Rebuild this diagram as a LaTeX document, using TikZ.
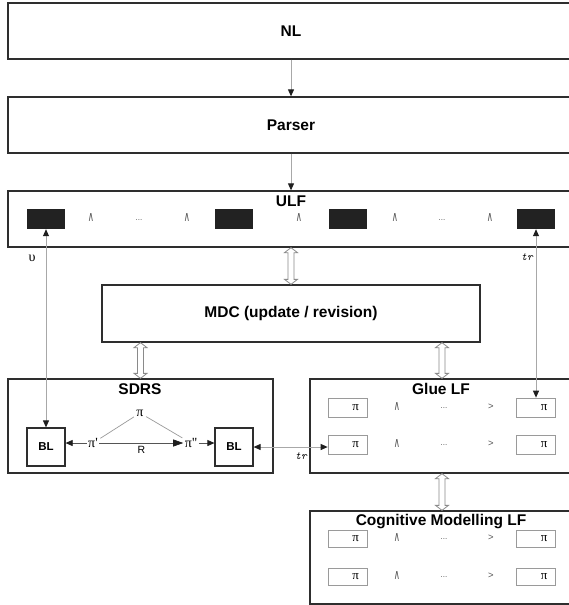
\documentclass[tikz,border=0pt]{standalone}
\usepackage{fontspec}
\setmainfont{Liberation Sans}
\newfontfamily\serifgr{Liberation Serif}
\newfontfamily\symf{DejaVu Sans}
\usetikzlibrary{arrows.meta,calc}
\definecolor{boxc}{HTML}{2E2E2E}
\definecolor{linec}{HTML}{A8A8A8}
\definecolor{tipc}{HTML}{1E1E1E}
\definecolor{smallc}{HTML}{9A9A9A}
\definecolor{blkc}{HTML}{222222}
\definecolor{dblc}{HTML}{8A8A8A}
\definecolor{innerc}{HTML}{555555}
\newcommand\andsym{\scalebox{0.7}[1.15]{∧}}
\newcommand\dblarr[2]{%
  \draw[dblarrow] let \p1=#1, \p2=#2 in
  (\x1,\y1) -- ({\x1+6.5pt},{\y1-5pt}) -- ({\x1+3pt},{\y1-5pt}) -- ({\x1+3pt},{\y2+5pt})
  -- ({\x1+6.5pt},{\y2+5pt}) -- (\x1,\y2) -- ({\x1-6.5pt},{\y2+5pt}) -- ({\x1-3pt},{\y2+5pt})
  -- ({\x1-3pt},{\y1-5pt}) -- ({\x1-6.5pt},{\y1-5pt}) -- cycle;}
\tikzset{
  bigbox/.style={draw=boxc, line width=1.3pt, inner sep=0pt, minimum width=566pt},
  ttl/.style={font=\fontsize{15.5}{18}\selectfont\bfseries, inner sep=0pt},
  blkbox/.style={fill=blkc, minimum width=38pt, minimum height=20pt, inner sep=0pt},
  blbox/.style={draw=boxc, line width=1.2pt, minimum width=38pt, minimum height=38pt, inner sep=0pt,
    font=\fontsize{11.5}{13}\selectfont\bfseries},
  srect/.style={draw=smallc, line width=0.7pt, minimum width=39pt, minimum height=19pt, inner sep=0pt,
    text width=23pt, align=right, font=\fontsize{13}{14}\selectfont\serifgr},
  opnode/.style={inner sep=0pt, text=innerc, font=\fontsize{12}{13}\selectfont\symf},
  dotsnode/.style={inner sep=0pt, text=innerc, font=\fontsize{8}{9}\selectfont},
  gtnode/.style={inner sep=0pt, text=innerc, font=\fontsize{9.5}{10}\selectfont},
  pinode/.style={inner sep=1.5pt, font=\fontsize{14}{16}\selectfont\serifgr},
  lblnode/.style={inner sep=0pt, font=\fontsize{14}{16}\selectfont\serifgr},
  trnode/.style={inner sep=0pt, font=\fontsize{11}{12}\selectfont\ttfamily\itshape},
  tip/.tip={Triangle[length=7pt,width=6pt,color=tipc]},
  bigtip/.tip={Triangle[length=10pt,width=7pt,color=tipc]},
  conn/.style={draw=linec, line width=0.9pt, -tip},
  conn2/.style={draw=linec, line width=0.9pt, tip-tip},
  innerarr/.style={draw=innerc, line width=0.7pt, -tip},
  innerbig/.style={draw=innerc, line width=0.7pt, -bigtip},
  thinline/.style={draw=smallc, line width=0.7pt, shorten <=1pt, shorten >=1pt},
  dblarrow/.style={draw=dblc, line width=0.8pt, fill=white},
}
\begin{document}
\begin{tikzpicture}[x=1pt,y=-1pt]
\path[use as bounding box, fill=white] (0,0) rectangle (568,605);
% top boxes
\node[bigbox, minimum height=56pt, ttl] (nl) at (291,31) {NL};
\node[bigbox, minimum height=56pt, ttl] (parser) at (291,125) {Parser};
\node[bigbox, minimum height=56pt] (ulf) at (291,219) {};
\node[ttl] (ulft) at (291,201) {ULF};
% ULF row
\node[blkbox] (u1) at (46,219) {};
\node[blkbox] (u2) at (234,219) {};
\node[blkbox] (u3) at (347.5,219) {};
\node[blkbox] (u4) at (536,219) {};
\node[opnode] (ua1) at (91,218) {\andsym};
\node[dotsnode] (ud1) at (139,220) {...};
\node[opnode] (ua2) at (187,218) {\andsym};
\node[opnode] (ua3) at (299,218) {\andsym};
\node[opnode] (ua4) at (395,218) {\andsym};
\node[dotsnode] (ud2) at (442,220) {...};
\node[opnode] (ua5) at (490,218) {\andsym};
% MDC
\node[draw=boxc, line width=1.3pt, minimum width=378pt, minimum height=57pt, inner sep=0pt, ttl] (mdc) at (291,313.5) {MDC (update / revision)};
% SDRS
\node[draw=boxc, line width=1.3pt, minimum width=265pt, minimum height=94pt, inner sep=0pt] (sdrs) at (140.5,426) {};
\node[ttl] (sdrst) at (140,389) {SDRS};
\node[blbox] (bl1) at (46,447) {BL};
\node[blbox] (bl2) at (234,447) {BL};
\node[pinode] (p0) at (140,413) {π};
\node[pinode] (p1) at (93,443) {π'};
\node[pinode] (p2) at (191,443) {π''};
\draw[thinline] (p0) -- (p1);
\draw[thinline] (p0) -- (p2);
\draw[innerarr] (p1.west) -- (p1.west -| bl1.east);
\draw[innerbig] (p1.east) -- (p2.west) node[midway, below=3pt, inner sep=0pt, font=\fontsize{10.5}{12}\selectfont] (rlab) {R};
\draw[innerarr] (p2.east) -- (p2.east -| bl2.west);
% Glue LF
\node[draw=boxc, line width=1.3pt, minimum width=264pt, minimum height=94pt, inner sep=0pt] (glue) at (442,426) {};
\node[ttl] (gluet) at (441,389) {Glue LF};
\node[srect] (g1l) at (347.5,407.5) {π};
\node[srect] (g1r) at (536,407.5) {π};
\node[srect] (g2l) at (347.5,444.5) {π};
\node[srect] (g2r) at (536,444.5) {π};
\node[opnode] (ga1) at (397,406) {\andsym};
\node[dotsnode] (gd1) at (444,408) {...};
\node[gtnode] (gg1) at (491,407) {>};
\node[opnode] (ga2) at (397,443) {\andsym};
\node[dotsnode] (gd2) at (444,445) {...};
\node[gtnode] (gg2) at (491,444) {>};
% Cognitive Modelling LF
\node[draw=boxc, line width=1.3pt, minimum width=264pt, minimum height=93pt, inner sep=0pt] (cog) at (442,557.5) {};
\node[ttl] (cogt) at (441,522) {Cognitive Modelling LF};
\node[srect, minimum height=17pt] (c1l) at (347.5,538.5) {π};
\node[srect, minimum height=17pt] (c1r) at (536,538.5) {π};
\node[srect, minimum height=17pt] (c2l) at (347.5,576.5) {π};
\node[srect, minimum height=17pt] (c2r) at (536,576.5) {π};
\node[opnode] (ca1) at (397,537) {\andsym};
\node[dotsnode] (cd1) at (444,539) {...};
\node[gtnode] (cg1) at (491,538) {>};
\node[opnode] (ca2) at (397,575) {\andsym};
\node[dotsnode] (cd2) at (444,577) {...};
\node[gtnode] (cg2) at (491,576) {>};
% connectors
\draw[conn] (nl.south) -- (parser.north);
\draw[conn] (parser.south) -- (ulf.north);
\draw[conn2] (u1.south) -- (bl1.north);
\draw[conn2] (u4.south) -- (g1r.north);
\draw[conn2] (bl2.east) -- (bl2.east -| g2l.west);
\node[lblnode] (ups) at (32,258) {υ};
\node[trnode] (tr1) at (527,257) {tr};
\node[trnode] (tr2) at (301,456) {tr};
% double arrows
\dblarr{(ulf.south -| mdc.north)}{(mdc.north)}
\dblarr{(mdc.south -| sdrs.north)}{(sdrs.north)}
\dblarr{(mdc.south -| glue.north)}{(glue.north)}
\dblarr{(glue.south)}{(cog.north)}
\end{tikzpicture}
\end{document}
